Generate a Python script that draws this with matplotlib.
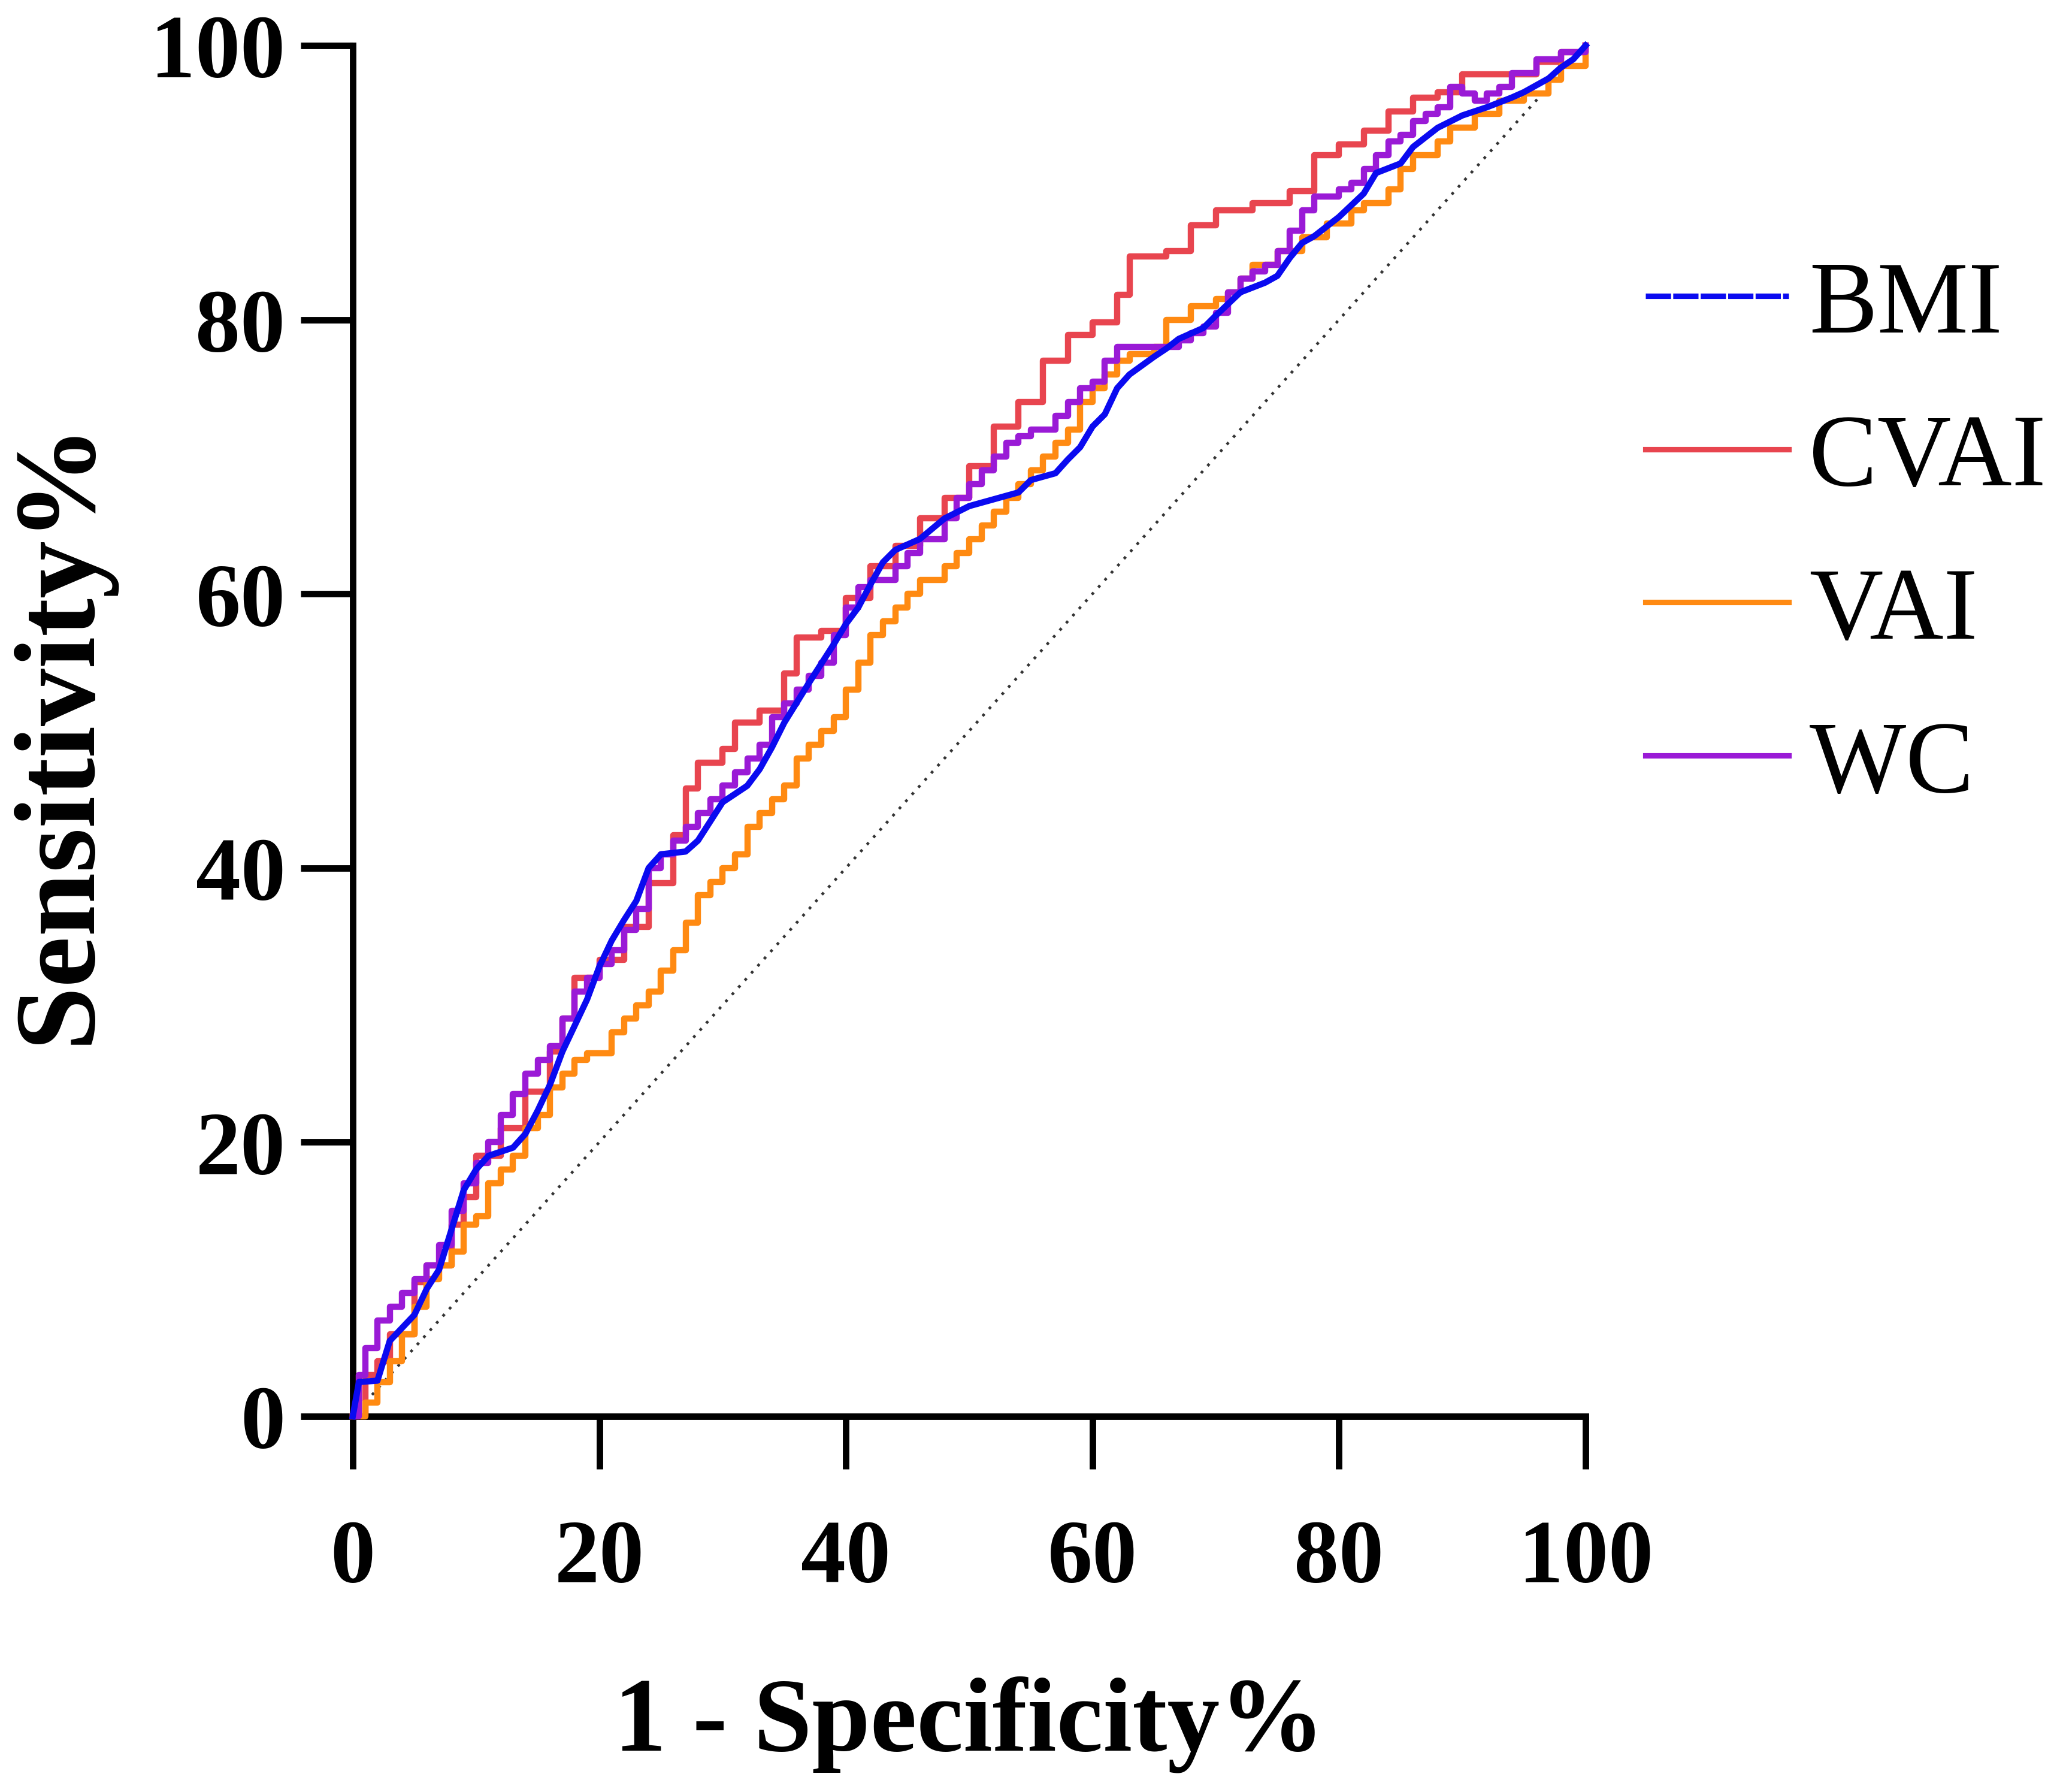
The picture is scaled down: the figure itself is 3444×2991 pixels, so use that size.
import matplotlib
matplotlib.use("Agg")
import matplotlib.pyplot as plt
from matplotlib.lines import Line2D

plt.rcParams['font.family'] = ['Liberation Serif', 'DejaVu Serif']

# ROC curves (1 - specificity %, sensitivity %)
bmi_x = [0, 0.5, 2, 3, 5, 6, 7, 8, 9, 10, 11, 13, 14, 15, 16, 17, 18, 19, 20, 21, 22, 23, 24, 25,
         27, 28, 29, 30, 32, 33, 34, 35, 37, 38, 39, 40, 41, 42, 43, 44, 46, 48, 50, 52, 54, 55,
         57, 58, 59, 60, 61, 62, 63, 65, 66, 67, 69, 70, 72, 74, 75, 76, 77, 78, 80, 82, 83, 85,
         86, 88, 90, 92, 94, 95, 97, 98, 99, 100]
bmi_y = [0, 2.5, 2.6, 5.5, 7.4, 9.3, 10.7, 13.6, 16.5, 18, 19, 19.6, 20.6, 22.3, 24.2, 26.6, 28.5,
         30.4, 32.8, 34.7, 36.2, 37.6, 40, 41, 41.2, 42, 43.4, 44.8, 46, 47.2, 48.8, 50.6, 53.5,
         54.9, 56.3, 57.8, 59, 60.7, 62.3, 63.2, 64, 65.5, 66.4, 66.9, 67.4, 68.3, 68.8, 69.8,
         70.7, 72.2, 73.1, 75, 76, 77.3, 77.9, 78.6, 79.4, 80.3, 82, 82.7, 83.2, 84.5, 85.6, 86.1,
         87.5, 89.2, 90.7, 91.4, 92.6, 94, 94.9, 95.5, 96.2, 96.6, 97.6, 98.4, 99, 100]

cvai_x = [0, 1, 2, 3, 5, 6, 8, 9, 10, 12, 14, 16, 17, 18, 20, 22, 24, 26, 27, 28, 30, 31, 33, 35,
          36, 38, 40, 42, 44, 46, 48, 50, 52, 54, 56, 58, 60, 62, 63, 66, 68, 70, 73, 76, 78, 80,
          82, 84, 86, 88, 90, 95, 96, 98, 100]
cvai_y = [0, 3, 4, 6, 9.8, 11, 14, 16, 19, 21, 23.7, 26.6, 29, 32, 33.3, 35.7, 38.9, 42.4, 45.8,
          47.7, 48.7, 50.6, 51.5, 54.2, 56.8, 57.3, 59.7, 62, 63.5, 65.5, 67, 69.3, 72.2, 74, 77,
          78.9, 79.8, 81.8, 84.6, 85, 86.9, 88, 88.5, 89.4, 92, 92.8, 93.8, 95.2, 96.2, 96.6, 97.9,
          97.9, 98.8, 99.5, 100]

vai_x = [0, 1, 2, 3, 4, 5, 6, 7, 8, 9, 10, 11, 12, 13, 14, 15, 16, 17, 18, 19, 20, 21, 22, 23,
         24, 25, 26, 27, 28, 29, 30, 31, 32, 33, 34, 35, 36, 37, 38, 39, 40, 41, 42, 43, 44, 45,
         46, 48, 49, 50, 51, 52, 53, 54, 55, 56, 57, 58, 59, 60, 61, 62, 63, 65, 66, 68, 70, 71,
         72, 73, 75, 77, 79, 81, 82, 84, 85, 86, 88, 89, 91, 93, 95, 97, 98, 100]
vai_y = [0, 1, 2.5, 4, 6, 8, 10, 11, 12, 14, 14.6, 17, 18, 19, 21, 22, 24, 25, 26, 26.5, 26.5, 28,
         29, 30, 31, 32.5, 34, 36, 38, 39, 40, 41, 43, 44, 45, 46, 48, 49, 50, 51, 53, 55, 57,
         58, 59, 60, 61, 62, 63, 64, 65, 66, 67, 68, 69, 70, 71, 72, 74, 75, 76, 77, 77.5, 78,
         80, 81, 81.5, 82, 83, 84, 85, 86, 87, 88, 88.5, 89.5, 91, 92, 93, 94, 95, 96, 96.5,
         97.5, 98.5, 100]

wc_x = [0, 0.5, 1, 2, 3, 4, 5, 6, 7, 8, 9, 10, 11, 12, 13, 14, 15, 16, 17, 18, 19, 20, 21, 22,
        23, 24, 25, 26, 27, 28, 29, 30, 31, 32, 33, 34, 35, 36, 37, 38, 39, 40, 41, 42, 44, 45,
        46, 48, 49, 50, 51, 52, 53, 54, 55, 56, 57, 58, 59, 60, 61, 62, 64, 66, 67, 68, 69, 70,
        71, 72, 73, 74, 75, 76, 77, 78, 80, 81, 82, 83, 84, 85, 86, 87, 88, 89, 90, 91, 92, 93,
        94, 95, 96, 98, 100]
wc_y = [0, 3, 5, 7, 8, 9, 10, 11, 12.5, 15, 17, 18.5, 20, 22, 23.5, 25, 26, 27, 29, 31, 32, 33,
        34, 35.5, 37, 40, 41, 42, 43, 44, 45, 46, 47, 48, 49, 51, 52, 53, 54, 55, 57, 59, 60.5,
        61, 62, 63, 64, 65.5, 67, 68, 69, 70, 71, 71.5, 72, 72, 73, 74, 75, 75.5, 77, 78, 78,
        78, 78.5, 79, 79.5, 80.5, 82, 83, 83.5, 84, 85, 86.5, 88, 89, 89.5, 90, 91, 92, 93,
        93.5, 94.5, 95, 95.5, 97, 96.5, 96, 96.5, 97, 98, 98, 99, 99.5, 100]

labels = ['BMI', 'CVAI', 'VAI', 'WC']
colors = ['#0a0af0', '#e8454f', '#ff8a12', '#9a1ad6']
ticks = [0, 20, 40, 60, 80, 100]

fig = plt.figure(figsize=(11.48, 9.973), dpi=300)
ax = fig.add_axes([0.171, 0.2096, 0.5976, 0.7647])

# reference line
ax.plot([0, 100], [0, 100], color='#333333', linestyle=(0, (1, 2.5)), linewidth=1.1, zorder=1)

lw = 2.5
ax.plot(cvai_x, cvai_y, color=colors[1], linewidth=lw, drawstyle='steps-post', clip_on=False, zorder=2)
ax.plot(vai_x, vai_y, color=colors[2], linewidth=lw, drawstyle='steps-post', clip_on=False, zorder=3)
ax.plot(wc_x, wc_y, color=colors[3], linewidth=lw, drawstyle='steps-post', clip_on=False, zorder=4)
ax.plot(bmi_x, bmi_y, color=colors[0], linewidth=lw, clip_on=False, zorder=5)

ax.set_xlim(0, 100)
ax.set_ylim(0, 100)
ax.set_xticks(ticks)
ax.set_yticks(ticks)
ax.spines['top'].set_visible(False)
ax.spines['right'].set_visible(False)
for s in ['left', 'bottom']:
    ax.spines[s].set_linewidth(2.6)
ax.tick_params(axis='both', length=21, width=2.6, labelsize=36)
ax.tick_params(axis='x', pad=20)
ax.tick_params(axis='y', pad=6)
for lab in ax.get_xticklabels() + ax.get_yticklabels():
    lab.set_fontweight('bold')

ax.set_xlabel('1 - Specificity%', fontsize=42, fontweight='bold', labelpad=30)
ax.set_ylabel('Sensitivity%', fontsize=46, fontweight='bold', labelpad=15)

handles = [Line2D([], [], color=colors[0], linewidth=2.2, linestyle=(0, (4.6, 0.4))),
           Line2D([], [], color=colors[1], linewidth=2.2),
           Line2D([], [], color=colors[2], linewidth=2.2),
           Line2D([], [], color=colors[3], linewidth=2.2)]
fig.legend(handles, labels, loc='upper left', bbox_to_anchor=(0.753, 0.906), frameon=False,
           fontsize=41, handlelength=1.4, handletextpad=0.2, labelspacing=0.58)

fig.savefig('out.png', dpi=300, facecolor='white')
